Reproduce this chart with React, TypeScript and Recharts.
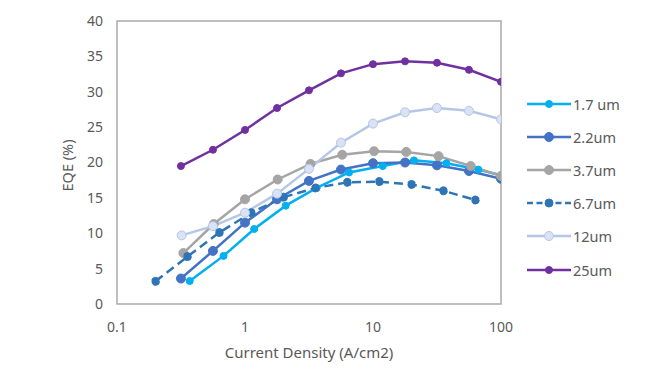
import React from "react";
import { LineChart, Line, XAxis, YAxis, ReferenceArea, Legend } from "recharts";

// ---- data ----
const xQuarter = [0.316, 0.562, 1, 1.78, 3.16, 5.62, 10, 17.8, 31.6, 56.2, 100];

const x17 = [0.37, 0.68, 1.18, 2.08, 3.63, 6.5, 11.9, 20.9, 37.5, 66.5, 100];
const y17 = [3.25, 6.8, 10.6, 13.9, 16.4, 18.6, 19.5, 20.3, 19.9, 19.0, 18.2];

const x22 = xQuarter;
const y22 = [3.6, 7.5, 11.5, 14.8, 17.4, 19.0, 19.9, 20.0, 19.6, 18.8, 17.7];

const x37 = [0.33, 0.57, 1.0, 1.8, 3.25, 5.75, 10.2, 18.2, 32.5, 58, 100];
const y37 = [7.2, 11.3, 14.8, 17.6, 19.8, 21.1, 21.6, 21.5, 20.9, 19.5, 18.1];

const x67 = [0.2, 0.355, 0.63, 1.12, 2.0, 3.55, 6.3, 11.2, 20, 35.5, 63];
const y67 = [3.2, 6.7, 10.1, 12.9, 15.1, 16.4, 17.2, 17.3, 16.9, 16.0, 14.7];

const x12 = [0.32, 0.562, 1, 1.78, 3.16, 5.62, 10, 17.8, 31.6, 56.2, 100];
const y12 = [9.7, 11.0, 12.9, 15.6, 19.1, 22.8, 25.5, 27.1, 27.7, 27.3, 26.1];

const x25 = xQuarter;
const y25 = [19.5, 21.8, 24.6, 27.7, 30.2, 32.6, 33.9, 34.3, 34.1, 33.1, 31.4];

const xTicks = [0.1, 1, 10, 100];
const yTicks = [0, 5, 10, 15, 20, 25, 30, 35, 40];

const seriesNames = ["1.7 um", "2.2um", "3.7um", "6.7um", "12um", "25um"];

const toPts = (xs: number[], ys: number[]) => xs.map((x, i) => ({ x, y: ys[i] }));

const series = [
  { name: seriesNames[0], data: toPts(x17, y17), color: "#00B0F0", fill: "#00B0F0", dash: undefined as string | undefined, r: 3.5 },
  { name: seriesNames[1], data: toPts(x22, y22), color: "#4472C4", fill: "#4472C4", dash: undefined, r: 4.5 },
  { name: seriesNames[2], data: toPts(x37, y37), color: "#A5A5A5", fill: "#A5A5A5", dash: undefined, r: 4.5 },
  { name: seriesNames[3], data: toPts(x67, y67), color: "#2E75B6", fill: "#2E75B6", dash: "9 5", r: 4 },
  { name: seriesNames[4], data: toPts(x12, y12), color: "#B4C7E7", fill: "#DAE3F3", dash: undefined, r: 4.5 },
  { name: seriesNames[5], data: toPts(x25, y25), color: "#7030A0", fill: "#7030A0", dash: undefined, r: 3.5 },
];

const FONT = "'Noto Sans', sans-serif";
const TXT = "#595959";

const LegendContent = () => (
  <div style={{ fontFamily: FONT, fontSize: 14.5, color: TXT }}>
    {series.map((s) => (
      <div key={s.name} style={{ height: 33.2, display: "flex", alignItems: "center" }}>
        <svg width={46} height={14} style={{ display: "block" }}>
          <line x1={0} y1={7} x2={44} y2={7} stroke={s.color} strokeWidth={2.5} strokeDasharray={s.dash ? "6 3.5" : undefined} />
          <circle cx={22} cy={7} r={s.r} fill={s.fill} stroke={s.color} strokeWidth={1} />
        </svg>
        <span style={{ marginLeft: 0 }}>{s.name}</span>
      </div>
    ))}
  </div>
);

export default function App() {
  return (
    <div style={{ width: 662, height: 374, position: "relative" }}>
      <LineChart width={662} height={374} margin={{ top: 13, right: 169, bottom: 18, left: 0 }}>
        <XAxis
          dataKey="x"
          type="number"
          scale="log"
          domain={[0.1, 100]}
          ticks={xTicks}
          allowDataOverflow
          axisLine={false}
          tickLine={false}
          tickSize={0}
          tickMargin={18}
          height={60}
          tick={{ fill: TXT, fontSize: 14, fontFamily: FONT }}
          label={{ value: "Current Density (A/cm2)", position: "insideBottom", offset: 6, fill: TXT, fontSize: 15, fontFamily: FONT }}
        />
        <YAxis
          type="number"
          domain={[0, 40]}
          ticks={yTicks}
          axisLine={false}
          tickLine={false}
          tickSize={0}
          tickMargin={14}
          width={109}
          tick={{ fill: TXT, fontSize: 14, fontFamily: FONT }}
          label={(props: any) => {
            const vb = props.viewBox || {};
            const cx = (vb.x ?? 0) + 59;
            const cy = (vb.y ?? 0) + (vb.height ?? 0) / 2 + 3;
            return (
              <text x={cx} y={cy} transform={`rotate(-90 ${cx} ${cy})`} textAnchor="middle" dominantBaseline="central" fill={TXT} fontSize={14.5} fontFamily={FONT}>
                EQE (%)
              </text>
            );
          }}
        />
        <ReferenceArea x1={0.1} x2={100} y1={0} y2={40} fill="none" stroke="#ABABAB" strokeWidth={1.5} ifOverflow="visible" />
        {series.map((s) => (
          <Line
            key={s.name}
            data={s.data}
            dataKey="y"
            name={s.name}
            type="linear"
            stroke={s.color}
            strokeWidth={2.5}
            strokeDasharray={s.dash}
            dot={{ r: s.r, fill: s.fill, stroke: s.color, strokeWidth: 1 }}
            activeDot={false}
            isAnimationActive={false}
          />
        ))}
        <Legend
          layout="vertical"
          align="center"
          verticalAlign="middle"
          content={() => <LegendContent />}
          wrapperStyle={{ position: "absolute", left: 519, top: 79, width: 130 }}
        />
      </LineChart>
    </div>
  );
}
